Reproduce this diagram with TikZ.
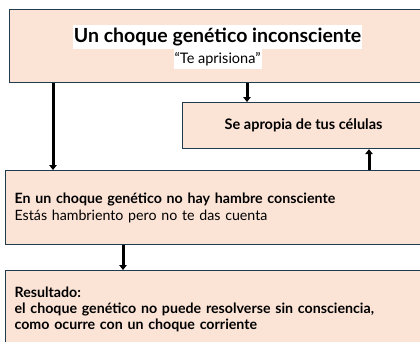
\documentclass[tikz,border=0pt]{standalone}
\usepackage{fontspec}
\setmainfont{Lato}
\usetikzlibrary{positioning,arrows.meta}
\definecolor{durazno}{HTML}{FBE3D6}
\definecolor{borde}{HTML}{1F3B4D}

\begin{document}
\begin{tikzpicture}[x=1pt, y=-1pt,
caja/.style={rectangle, draw=borde, line width=1.2pt, fill=durazno, anchor=north west, inner sep=0pt},
cajatexto/.style={caja, text width=412pt, inner xsep=9pt, align=left, font=\fontsize{14.2}{17}\selectfont},
resaltado/.style={fill=white, inner xsep=1pt, inner ysep=3pt},
flecha/.style={-{Triangle[width=7.5pt,length=5pt]}, line width=3pt, black},
]
\useasboundingbox (0,0) rectangle (420,341);
\clip (0,0) rectangle (420,341);

% Boxes
\node[caja, minimum width=416pt, minimum height=73pt] (choque) at (9,9) {};
\node[resaltado, font=\bfseries\fontsize{19.5}{22}\selectfont] (titulo) at ([yshift=9.5pt]choque.center) {Un choque genético inconsciente};
\node[resaltado, font=\fontsize{14.5}{16}\selectfont] (subtitulo) [below=0pt of titulo] {“Te aprisiona”};
\node[caja, minimum width=242pt, minimum height=46pt, font=\bfseries\fontsize{14.5}{16}\selectfont] (apropia) at (182,102) {Se apropia de tus células};
\node[cajatexto, minimum height=74pt] (hambre) at (5,170) {\textbf{En un choque genético no hay hambre consciente}\\ Estás hambriento pero no te das cuenta};
\node[cajatexto, minimum height=78pt, font=\bfseries\fontsize{14.2}{16.2}\selectfont] (resultado) at (5,270) {Resultado:\\ el choque genético no puede resolverse sin consciencia,\\ como ocurre con un choque corriente};

% Arrows
\draw[flecha] ([xshift=44pt]choque.south west) -- ([xshift=48pt]hambre.north west);
\draw[flecha] ([xshift=238pt]choque.south west) -- ([xshift=65pt]apropia.north west);
\draw[flecha] ([xshift=364pt]hambre.north west) -- ([xshift=187pt]apropia.south west);
\draw[flecha] ([xshift=118pt]hambre.south west) -- ([xshift=118pt]resultado.north west);

\end{tikzpicture}
\end{document}
